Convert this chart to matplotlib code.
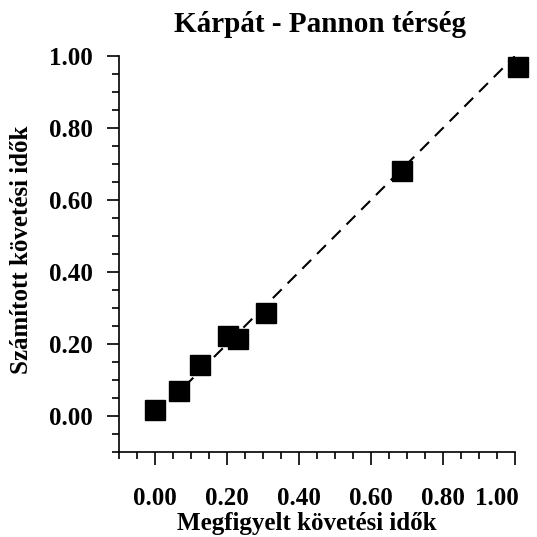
import matplotlib.pyplot as plt
import matplotlib.transforms as mtransforms
from matplotlib.ticker import MultipleLocator

# observed vs. computed follow-up times
megfigyelt = [0.00, 0.067, 0.125, 0.203, 0.230, 0.308, 0.686, 1.008]
szamitott = [0.017, 0.069, 0.141, 0.222, 0.213, 0.285, 0.681, 0.969]

diag = [0.0, 1.0]
tick_vals = [0.0, 0.2, 0.4, 0.6, 0.8, 1.0]

plt.rcParams['font.family'] = ['Liberation Serif', 'DejaVu Serif']
plt.rcParams['font.weight'] = 'bold'

fig = plt.figure(figsize=(5.37, 5.37), dpi=100)
ax = fig.add_axes([0.2216, 0.1583, 0.7374, 0.7374])

ax.plot(diag, diag, color='black', lw=1.5, dashes=(6, 4), zorder=2)
ax.plot(megfigyelt, szamitott, 's', color='black', ms=14, mec='black',
        clip_on=False, zorder=3)

ax.set_xlim(-0.1, 1.0)
ax.set_ylim(-0.1, 1.0)

for s in ['top', 'right']:
    ax.spines[s].set_visible(False)
for s in ['left', 'bottom']:
    ax.spines[s].set_linewidth(1.2)

ax.set_xticks(tick_vals)
ax.set_yticks(tick_vals)
ax.set_xticklabels(['{:.2f}'.format(v) for v in tick_vals])
ax.set_yticklabels(['{:.2f}'.format(v) for v in tick_vals])
ax.xaxis.set_minor_locator(MultipleLocator(0.05))
ax.yaxis.set_minor_locator(MultipleLocator(0.05))

ax.tick_params(which='major', direction='out', length=9, width=1.2,
               labelsize=18)
ax.tick_params(which='minor', direction='out', length=5, width=1.2)
ax.tick_params(axis='x', which='major', pad=16)
ax.tick_params(axis='y', which='major', pad=10)

# the last x label sits a bit left of its tick in the original
lbl = ax.get_xticklabels()[-1]
lbl.set_transform(lbl.get_transform() +
                  mtransforms.ScaledTranslation(-18 / 100, 0, fig.dpi_scale_trans))

ax.set_xlabel('Megfigyelt követési idők', fontsize=18, fontweight='bold')
ax.set_ylabel('Számított követési idők', fontsize=18, fontweight='bold')
ax.xaxis.set_label_coords(0.475, -0.152)
ax.yaxis.set_label_coords(-0.218, 0.51)

ax.set_title('Kárpát - Pannon térség', fontsize=21, fontweight='bold',
             x=0.508, y=1.06, pad=0)

fig.savefig('out.png', dpi=100)
